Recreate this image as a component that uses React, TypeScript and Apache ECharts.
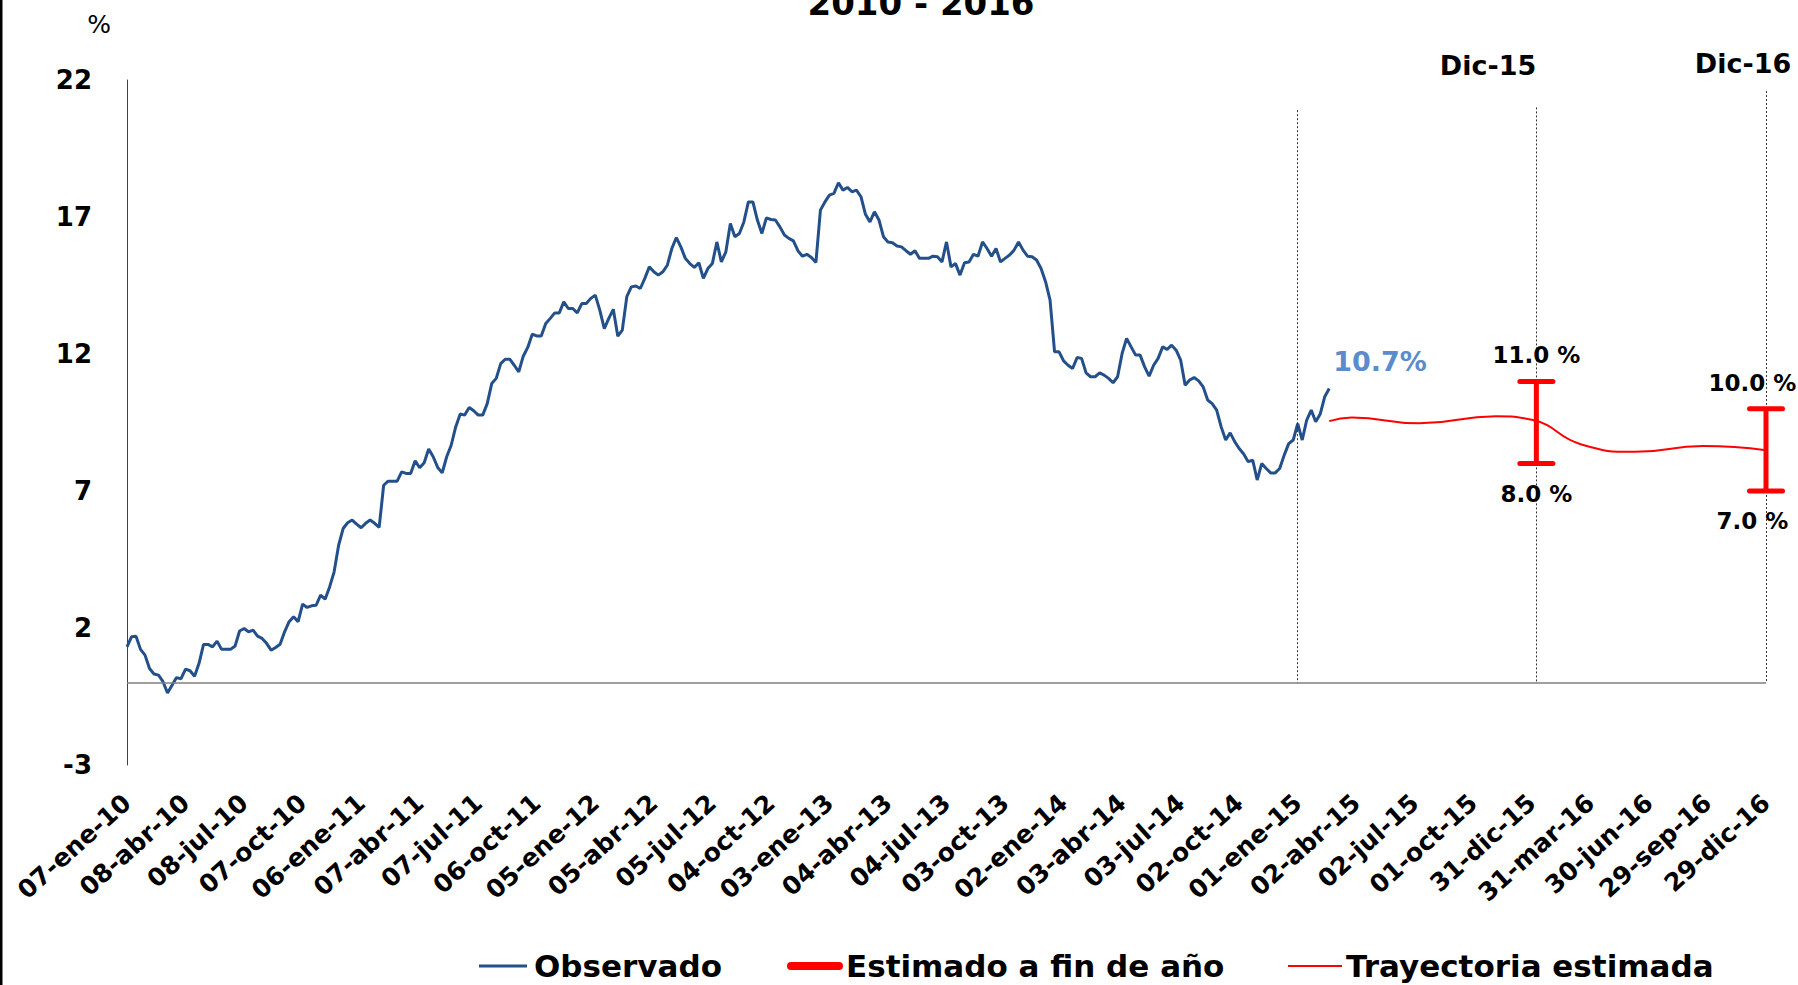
import React, { useEffect, useRef } from "react";
import * as echarts from "echarts";

// ---------- data ----------
const MONTHS = ["ene", "feb", "mar", "abr", "may", "jun", "jul", "ago", "sep", "oct", "nov", "dic"];
const FIRST_WEEK = Date.UTC(2010, 0, 7);
const WEEK_COUNT = 365;
const pad2 = (n: number) => (n < 10 ? "0" + n : "" + n);
const dates: string[] = Array.from({ length: WEEK_COUNT }, (_, i) => {
  const d = new Date(FIRST_WEEK + i * 7 * 86400000);
  return `${pad2(d.getUTCDate())}-${MONTHS[d.getUTCMonth()]}-${pad2(d.getUTCFullYear() % 100)}`;
});

// Observado (weekly, 07-ene-10 .. 19-feb-15)
const observed: number[] = [
  1.31, 1.68, 1.70, 1.22, 1.01, 0.52, 0.32, 0.28, 0.04, -0.37,
  -0.09, 0.19, 0.15, 0.50, 0.44, 0.24, 0.71, 1.40, 1.40, 1.31,
  1.52, 1.22, 1.22, 1.22, 1.34, 1.89, 1.98, 1.86, 1.92, 1.70,
  1.62, 1.44, 1.19, 1.29, 1.41, 1.86, 2.23, 2.41, 2.23, 2.87,
  2.75, 2.81, 2.83, 3.20, 3.05, 3.50, 4.05, 5.02, 5.63, 5.84,
  5.94, 5.79, 5.66, 5.82, 5.94,
  5.82, 5.67, 7.21, 7.36, 7.36, 7.36, 7.70, 7.64, 7.64, 8.10,
  7.85, 8.03, 8.53, 8.25, 7.86, 7.66, 8.25, 8.67, 9.34, 9.81,
  9.77, 10.05, 9.93, 9.77, 9.77, 10.19, 10.92, 11.11, 11.65, 11.81,
  11.81, 11.59, 11.35, 11.92, 12.24, 12.72, 12.66, 12.66, 13.11, 13.30,
  13.50, 13.50, 13.90, 13.66, 13.66, 13.50, 13.84, 13.84, 14.03, 14.15,
  13.60, 12.93, 13.30, 13.63, 12.65, 12.87, 14.09, 14.45, 14.48, 14.39,
  14.76, 15.18, 15.00, 14.88, 15.00, 15.24, 15.85, 16.25, 15.91, 15.49,
  15.30, 15.16, 15.33, 14.76, 15.12, 15.30, 16.09, 15.36, 15.73, 16.76,
  16.28, 16.40, 16.82, 17.55, 17.55, 16.89, 16.40, 16.97, 16.91, 16.89,
  16.64, 16.34, 16.22, 16.13, 15.77, 15.57, 15.64, 15.52, 15.34, 17.25,
  17.55, 17.80, 17.86, 18.25, 17.98, 18.08,
  17.92, 17.98, 17.74, 17.10, 16.82, 17.19, 16.89, 16.28, 16.09, 16.06,
  15.94, 15.91, 15.77, 15.64, 15.77, 15.49, 15.49, 15.49, 15.57, 15.55,
  15.36, 16.09, 15.18, 15.30, 14.88, 15.33, 15.36, 15.64, 15.57, 16.09,
  15.85, 15.57, 15.85, 15.36, 15.49, 15.61, 15.79, 16.09, 15.79, 15.57,
  15.55, 15.43, 15.12, 14.64, 13.97, 12.08, 12.08, 11.75, 11.59, 11.47,
  11.87, 11.84, 11.31,
  11.17, 11.17, 11.31, 11.23, 11.11, 10.95, 11.17, 12.02, 12.57, 12.26,
  11.96, 11.96, 11.53, 11.19, 11.59, 11.84, 12.26, 12.17, 12.32, 12.14,
  11.78, 10.86, 11.05, 11.14, 11.02, 10.80, 10.32, 10.19, 9.95, 9.34,
  8.86, 9.12, 8.80, 8.55, 8.35, 8.07, 8.13, 7.40, 8.00, 7.82,
  7.66, 7.66, 7.82, 8.31, 8.73, 8.86, 9.46, 8.86, 9.59, 9.95,
  9.53, 9.81, 10.44, 10.74,
];

// Trayectoria estimada: [week index, value]
const trajectory: [number, number][] = [
  [267, 9.55], [272, 9.68], [287, 9.47], [304, 9.73], [312, 9.6],
  [323, 8.7], [335, 8.43], [350, 8.64], [364, 8.49],
];

// Estimado a fin de año: [week index, low, high]
const yearEnd: [number, number, number][] = [
  [313, 8.0, 11.0],
  [364, 7.0, 10.0],
];
const yearEndNames = ["Dic-15", "Dic-16"];

// dotted guides: [week index, top value]
const guides: [number, number][] = [
  [260, 20.9],
  [313, 21.0],
  [364, 21.6],
];

const Y_MIN = -3;
const Y_MAX = 22;
const Y_STEP = 5;
const LABEL_EVERY = 13;

const FONT = '"DejaVu Sans", "Liberation Sans", sans-serif';
const BLUE = "#23508a";
const RED = "#ff0000";

export default function App() {
  const ref = useRef<HTMLDivElement>(null);

  useEffect(() => {
    document.body.style.margin = "0";
    const chart = echarts.init(ref.current!, null, { renderer: "svg" });

    const option: any = {
      animation: false,
      grid: { left: 127, right: 32, top: 80, bottom: 220, containLabel: false },
      xAxis: {
        type: "category",
        data: dates,
        boundaryGap: false,
        axisLine: { show: false, onZero: false },
        axisTick: { show: false },
        splitLine: { show: false },
        axisLabel: {
          interval: (i: number) => i % LABEL_EVERY === 0,
          rotate: 42,
          margin: 34,
          color: "#000",
          fontFamily: FONT,
          fontWeight: "bold",
          fontSize: 25,
        },
      },
      yAxis: {
        type: "value",
        min: Y_MIN,
        max: Y_MAX,
        interval: Y_STEP,
        axisLine: { show: true, lineStyle: { color: "#404040", width: 1 } },
        axisTick: { show: false },
        splitLine: { show: false },
        axisLabel: {
          margin: 35,
          color: "#000",
          fontFamily: FONT,
          fontWeight: "bold",
          fontSize: 26,
        },
      },
      series: [
        {
          name: "Trayectoria estimada",
          type: "line",
          data: trajectory,
          smooth: 0.5,
          showSymbol: false,
          lineStyle: { color: RED, width: 2 },
          z: 3,
          markLine: {
            silent: true,
            symbol: ["none", "none"],
            label: { show: false },
            lineStyle: { color: "#333", width: 1, type: [2, 2] },
            data: guides.map(([i, top]) => [
              { coord: [dates[i], top] },
              { coord: [dates[i], 0] },
            ]),
          },
        },
        {
          name: "Observado",
          type: "line",
          data: observed,
          showSymbol: false,
          lineStyle: { color: BLUE, width: 3 },
          z: 4,
          endLabel: {
            show: true,
            formatter: (p: any) => `${Number(p.value).toFixed(1)}%`,
            color: "#5a8ccc",
            fontFamily: FONT,
            fontWeight: "bold",
            fontSize: 27,
            distance: 4,
            offset: [0, -27],
          },
          markLine: {
            silent: true,
            symbol: ["none", "none"],
            label: { show: false },
            lineStyle: { color: "#7f7f7f", width: 1.5, type: "solid" },
            data: [{ yAxis: 0 }],
          },
        },
        {
          name: "Estimado a fin de año",
          type: "custom",
          data: yearEnd,
          z: 5,
          renderItem: (params: any, api: any) => {
            const idx = api.value(0);
            const low = api.value(1);
            const high = api.value(2);
            const top = api.coord([idx, high]);
            const bot = api.coord([idx, low]);
            const W = api.getWidth();
            const half = 16.5;
            const fs = 23;
            const estW = fs * 3.8;
            const cx = Math.min(top[0], W - estW / 2 - 2);
            const txt = (t: string, y: number) => ({
              type: "text",
              x: cx,
              y,
              style: {
                text: t,
                fill: "#000",
                fontFamily: FONT,
                fontWeight: "bold",
                fontSize: fs,
                align: "center",
                verticalAlign: "middle",
              },
            });
            const stroke = { stroke: RED, lineWidth: 5, lineCap: "round" };
            return {
              type: "group",
              children: [
                { type: "line", shape: { x1: top[0], y1: top[1], x2: bot[0], y2: bot[1] }, style: { stroke: RED, lineWidth: 5 } },
                { type: "line", shape: { x1: top[0] - half, y1: top[1], x2: top[0] + half, y2: top[1] }, style: stroke },
                { type: "line", shape: { x1: bot[0] - half, y1: bot[1], x2: bot[0] + half, y2: bot[1] }, style: stroke },
                txt(`${high.toFixed(1)} %`, top[1] - 26),
                txt(`${low.toFixed(1)} %`, bot[1] + 30),
              ],
            };
          },
        },
      ],
      graphic: [
        { type: "rect", shape: { x: 0, y: 0, width: 2.5, height: 985 }, style: { fill: "#000" } },
        {
          type: "text", x: 921, y: 3,
          style: { text: "2010 - 2016", fill: "#000", fontFamily: FONT, fontWeight: "bold", fontSize: 34, align: "center", verticalAlign: "middle" },
        },
        {
          type: "text", x: 99, y: 24,
          style: { text: "%", fill: "#000", fontFamily: FONT, fontSize: 25, align: "center", verticalAlign: "middle" },
        },
        {
          type: "text", x: 1488, y: 65,
          style: { text: yearEndNames[0], fill: "#000", fontFamily: FONT, fontWeight: "bold", fontSize: 27, align: "center", verticalAlign: "middle" },
        },
        {
          type: "text", x: 1743, y: 63,
          style: { text: yearEndNames[1], fill: "#000", fontFamily: FONT, fontWeight: "bold", fontSize: 27, align: "center", verticalAlign: "middle" },
        },
        // legend
        { type: "line", shape: { x1: 479, y1: 966, x2: 527, y2: 966 }, style: { stroke: BLUE, lineWidth: 3 } },
        {
          type: "text", x: 534, y: 966,
          style: { text: "Observado", fill: "#000", fontFamily: FONT, fontWeight: "bold", fontSize: 31, align: "left", verticalAlign: "middle" },
        },
        { type: "line", shape: { x1: 791, y1: 966, x2: 839, y2: 966 }, style: { stroke: RED, lineWidth: 8, lineCap: "round" } },
        {
          type: "text", x: 846, y: 966,
          style: { text: "Estimado a fin de año", fill: "#000", fontFamily: FONT, fontWeight: "bold", fontSize: 31, align: "left", verticalAlign: "middle" },
        },
        { type: "line", shape: { x1: 1288, y1: 966, x2: 1342, y2: 966 }, style: { stroke: RED, lineWidth: 2 } },
        {
          type: "text", x: 1346, y: 966,
          style: { text: "Trayectoria estimada", fill: "#000", fontFamily: FONT, fontWeight: "bold", fontSize: 31, align: "left", verticalAlign: "middle" },
        },
      ],
    };

    chart.setOption(option);
    return () => chart.dispose();
  }, []);

  return <div ref={ref} style={{ width: 1798, height: 985, overflow: "hidden" }} />;
}
